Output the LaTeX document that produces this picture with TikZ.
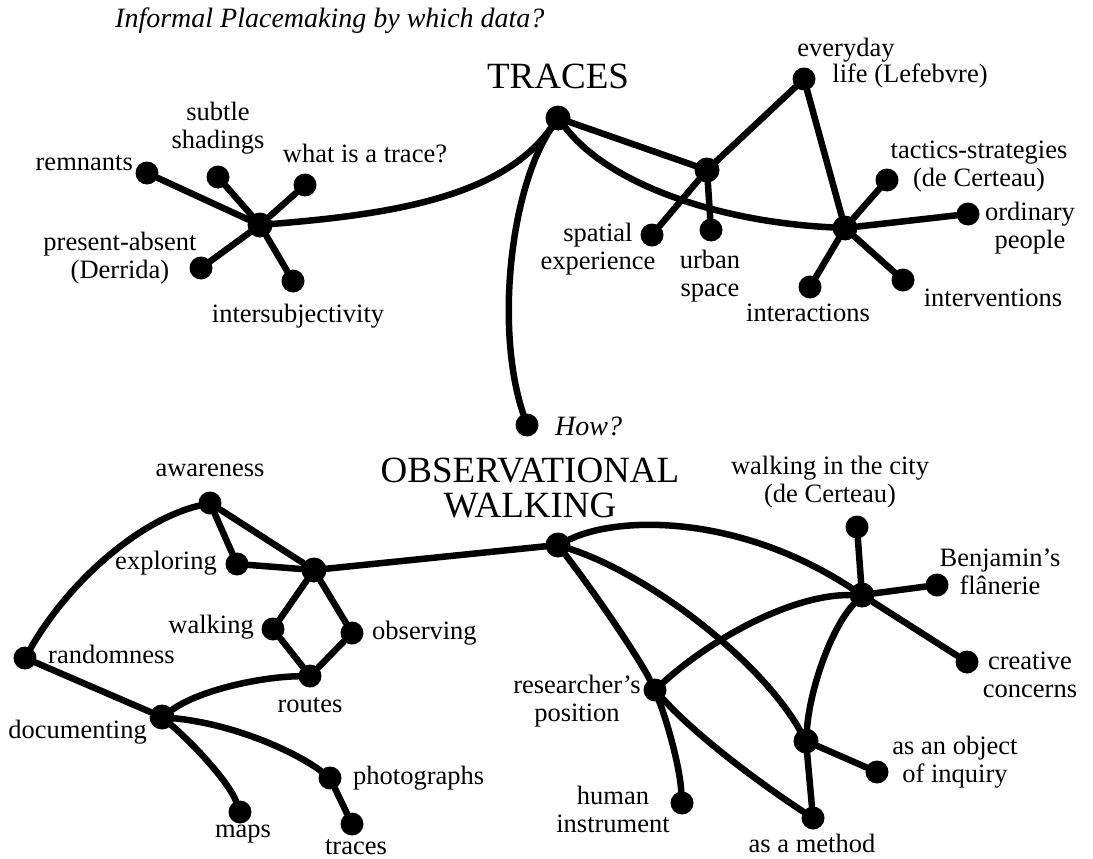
\documentclass[tikz,border=0pt]{standalone}
\usepackage{fontspec}
\setmainfont{Liberation Serif}
\begin{document}
\begin{tikzpicture}[x=1pt,y=-1pt,
  dot/.style={circle,fill=black,inner sep=0pt,minimum size=23pt},
  hub/.style={circle,fill=black,inner sep=0pt,minimum size=25pt},
  link/.style={line width=6.5pt,line cap=round},
  lbl/.style={font=\fontsize{26.5}{28}\selectfont,align=center,inner sep=0pt},
  head/.style={font=\fontsize{37}{35}\selectfont,align=center,inner sep=0pt},
  note/.style={font=\fontsize{28}{30}\selectfont\itshape,inner sep=0pt}]
\useasboundingbox (0,0) rectangle (1093,859);

% ---------- titles ----------
\node[note,anchor=base west] (title) at (115,28) {Informal Placemaking by which data?};
\node[head] (traces) at (558,76) {TRACES};
\node[head] (obswalk) at (530,488) {OBSERVATIONAL\\WALKING};

% ---------- TRACES cluster ----------
\node[hub] (th) at (558,118) {};
\node[hub] (star) at (260,225) {};
\node[dot] (remn) at (147,173) {};
\node[dot] (subtle) at (218,177) {};
\node[dot] (what) at (305,185) {};
\node[dot] (pres) at (201,268) {};
\node[dot] (inter) at (293,281) {};
\node[dot] (how) at (527,425) {};
\node[hub] (mid) at (707,170) {};
\node[dot] (everyday) at (804,79) {};
\node[dot] (spatial) at (652,235) {};
\node[dot] (urban) at (711,230) {};
\node[hub] (rh) at (845,228) {};
\node[dot] (tact) at (887,180) {};
\node[dot] (ordin) at (968,214) {};
\node[dot] (interact) at (810,287) {};
\node[dot] (interv) at (903,280) {};

\draw[link] (star) .. controls (380,215) and (500,200) .. (th);
\draw[link] (th) .. controls (510,190) and (495,330) .. (how);
\draw[link] (th) -- (mid);
\draw[link] (th) .. controls (610,185) and (720,222) .. (rh);
\draw[link] (mid) -- (everyday);
\draw[link] (mid) -- (spatial);
\draw[link] (mid) -- (urban);
\draw[link] (everyday) -- (rh);
\foreach \n in {remn,subtle,what,pres,inter} \draw[link] (star) -- (\n);
\foreach \n in {tact,ordin,interact,interv} \draw[link] (rh) -- (\n);

\node[lbl,anchor=east] (remnL) at (133,163) {remnants};
\node[lbl] (subtleL) at (218,128) {subtle\\shadings};
\node[lbl] (whatL) at (365,153) {what is a trace?};
\node[lbl] (presL) at (120,258) {present-absent\\(Derrida)};
\node[lbl] (interL) at (298,316) {intersubjectivity};
\node[note,anchor=base west] (howL) at (555,435) {How?};
\node[lbl] (everydayL) at (846,50) {everyday};
\node[lbl] (lifeL) at (910,76) {life (Lefebvre)};
\node[lbl] (tactL) at (979,167) {tactics-strategies\\(de Certeau)};
\node[lbl] (ordinL) at (1030,228) {ordinary\\people};
\node[lbl] (intervL) at (993,298) {interventions};
\node[lbl] (interactL) at (808,313) {interactions};
\node[lbl] (urbanL) at (710,276) {urban\\space};
\node[lbl] (spatialL) at (598,249) {spatial\\experience};

% ---------- OBSERVATIONAL WALKING cluster ----------
\node[hub] (oh) at (558,545) {};
\node[hub] (lh) at (314,570) {};
\node[dot] (aware) at (210,503) {};
\node[dot] (explor) at (237,564) {};
\node[dot] (walk) at (273,629) {};
\node[dot] (observ) at (352,633) {};
\node[dot] (routes) at (310,676) {};
\node[dot] (random) at (25,658) {};
\node[hub] (docu) at (162,717) {};
\node[dot] (maps) at (240,812) {};
\node[dot] (photo) at (330,778) {};
\node[dot] (tracesD) at (352,824) {};
\node[hub] (fh) at (862,595) {};
\node[dot] (city) at (857,527) {};
\node[dot] (benj) at (937,585) {};
\node[dot] (creat) at (967,662) {};
\node[dot] (resear) at (655,690) {};
\node[dot] (human) at (682,803) {};
\node[hub] (objh) at (806,741) {};
\node[dot] (object) at (877,772) {};
\node[dot] (method) at (813,818) {};

\draw[link] (oh) -- (lh);
\draw[link] (lh) -- (aware);
\draw[link] (lh) -- (explor);
\draw[link] (aware) -- (explor);
\draw[link] (aware) .. controls (140,520) and (70,580) .. (random);
\draw[link] (lh) -- (walk);
\draw[link] (lh) -- (observ);
\draw[link] (walk) -- (routes);
\draw[link] (observ) -- (routes);
\draw[link] (routes) .. controls (260,677) and (200,690) .. (docu);
\draw[link] (random) -- (docu);
\draw[link] (docu) .. controls (200,750) and (230,785) .. (maps);
\draw[link] (docu) .. controls (240,725) and (300,755) .. (photo);
\draw[link] (photo) -- (tracesD);

\draw[link] (oh) .. controls (620,515) and (740,515) .. (fh);
\draw[link] (oh) .. controls (650,575) and (760,660) .. (objh);
\draw[link] (oh) .. controls (600,600) and (640,660) .. (resear);
\draw[link] (resear) .. controls (670,730) and (680,770) .. (human);
\draw[link] (resear) .. controls (700,740) and (770,790) .. (method);
\draw[link] (resear) .. controls (710,640) and (790,595) .. (fh);
\draw[link] (fh) .. controls (830,630) and (810,690) .. (objh);
\draw[link] (objh) -- (method);
\draw[link] (objh) -- (object);
\draw[link] (fh) -- (city);
\draw[link] (fh) -- (benj);
\draw[link] (fh) -- (creat);

\node[lbl] (awareL) at (210,470) {awareness};
\node[lbl,anchor=east] (explorL) at (217,563) {exploring};
\node[lbl,anchor=east] (walkL) at (254,627) {walking};
\node[lbl,anchor=west] (observL) at (372,633) {observing};
\node[lbl,anchor=west] (randomL) at (48,654) {randomness};
\node[lbl] (routesL) at (310,705) {routes};
\node[lbl,anchor=east] (docuL) at (147,732) {documenting};
\node[lbl,anchor=west] (photoL) at (353,778) {photographs};
\node[lbl] (mapsL) at (243,834) {maps};
\node[lbl] (tracesL) at (356,847) {traces};
\node[lbl] (cityL) at (830,482) {walking in the city\\(de Certeau)};
\node[lbl] (benjL) at (1000,572) {Benjamin’s\\flânerie};
\node[lbl] (creatL) at (1030,675) {creative\\concerns};
\node[lbl] (objectL) at (955,762) {as an object\\of inquiry};
\node[lbl] (methodL) at (812,843) {as a method};
\node[lbl] (humanL) at (613,809) {human\\instrument};
\node[lbl] (researL) at (577,701) {researcher’s\\position};
\end{tikzpicture}
\end{document}
